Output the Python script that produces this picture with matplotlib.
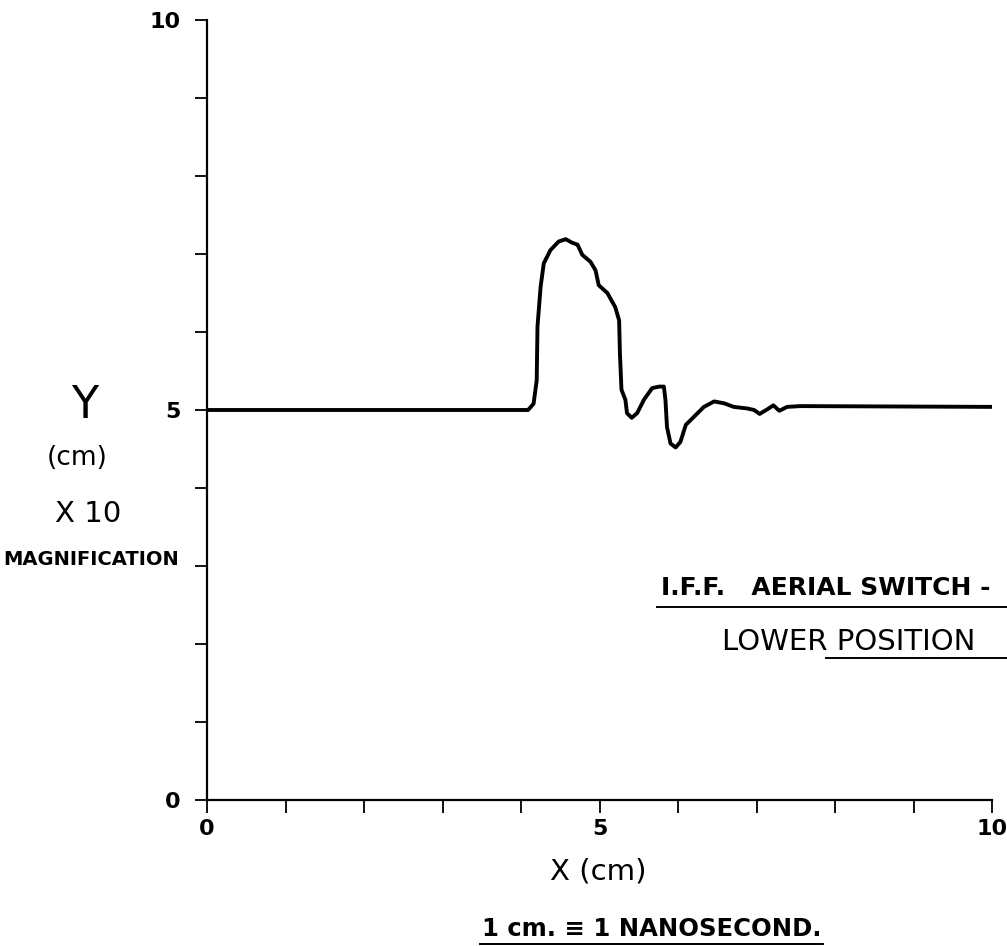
"""
I.F.F. aerial switch - lower position, pulse trace (x10 magnification)
"""

import matplotlib
matplotlib.use("Agg")
import matplotlib.pyplot as plt

# trace (cm)
x_cm = [0.0, 4.09, 4.16, 4.20, 4.21, 4.25, 4.29, 4.375, 4.48, 4.57, 4.65, 4.72,
        4.78, 4.885, 4.95, 4.99, 5.10, 5.20, 5.25, 5.26, 5.28, 5.33, 5.35, 5.41,
        5.48, 5.565, 5.67, 5.76, 5.82, 5.84, 5.86, 5.905, 5.97, 6.03, 6.10, 6.20,
        6.33, 6.46, 6.59, 6.71, 6.88, 6.97, 7.04, 7.14, 7.215, 7.29, 7.39, 7.56,
        10.0]
y_cm = [5.0, 5.0, 5.08, 5.38, 6.07, 6.58, 6.88, 7.05, 7.16, 7.19, 7.145, 7.12,
        6.99, 6.90, 6.79, 6.60, 6.50, 6.32, 6.15, 5.73, 5.26, 5.13, 4.96, 4.90,
        4.96, 5.13, 5.28, 5.30, 5.30, 5.13, 4.78, 4.57, 4.52, 4.59, 4.81, 4.91,
        5.04, 5.11, 5.085, 5.04, 5.02, 5.00, 4.95, 5.01, 5.06, 4.99, 5.04, 5.05,
        5.04]

ticks = list(range(11))
tick_labels = ["0", "", "", "", "", "5", "", "", "", "", "10"]

W, H = 1007, 946
fig = plt.figure(figsize=(W / 100, H / 100), dpi=100)
ax = fig.add_axes([207 / W, 1 - 800 / H, 785 / W, 780 / H])

# 손으로 그린 느낌의 굵은 선
ax.plot(x_cm, y_cm, color="black", lw=2.8, solid_joinstyle="round",
        solid_capstyle="round")

ax.set_xlim(0, 10)
ax.set_ylim(0, 10)
for s in ["top", "right"]:
    ax.spines[s].set_visible(False)
for s in ["left", "bottom"]:
    ax.spines[s].set_linewidth(1.6)

ax.set_xticks(ticks)
ax.set_xticklabels(tick_labels, fontsize=16, fontweight="bold")
ax.set_yticks(ticks)
ax.set_yticklabels(tick_labels, fontsize=16, fontweight="bold")
ax.tick_params(axis="both", direction="out", length=9, width=1.3)
ax.tick_params(axis="y", pad=10)
ax.tick_params(axis="x", pad=5)


def ftext(px, py, s, **kw):
    fig.text(px / W, 1 - py / H, s, ha=kw.pop("ha", "center"),
             va=kw.pop("va", "center"), **kw)


def fline(x0, x1, py, lw=1.2):
    fig.add_artist(plt.Line2D([x0 / W, x1 / W], [1 - py / H, 1 - py / H],
                              color="black", lw=lw))


# y label block
ftext(85, 405, "Y", fontsize=32)
ftext(77, 458, "(cm)", fontsize=19)
ftext(88, 514, "X 10", fontsize=21)
ftext(91, 559, "MAGNIFICATION", fontsize=14, fontweight="bold")

# x label block
ftext(598, 871, "X (cm)", fontsize=21)
ftext(652, 929, "1 cm. \u2261 1 NANOSECOND.", fontsize=17.5, fontweight="bold")
fline(480, 823, 944, lw=1.4)

# annotation (runs to the right edge, as in the original)
ftext(661, 588, "I.F.F.   AERIAL SWITCH -", fontsize=18, fontweight="bold",
      ha="left")
fline(657, W, 607, lw=1.4)
ftext(722, 642, "LOWER POSITION", fontsize=21, ha="left")
fline(826, W, 658, lw=1.4)

fig.savefig("out.png", dpi=100)
